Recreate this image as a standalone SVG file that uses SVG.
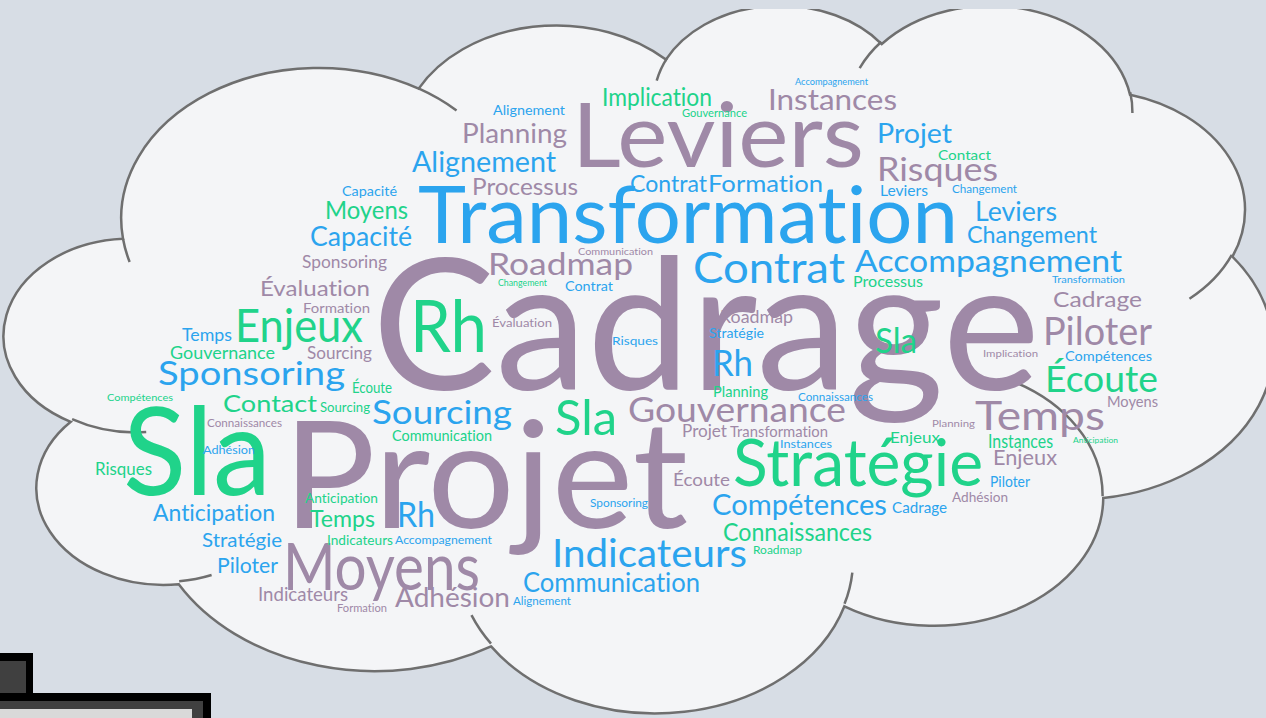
<svg xmlns="http://www.w3.org/2000/svg" width="1266" height="718" viewBox="0 0 1266 718">
<defs>
<style>
text{font-family:Lato,"Open Sans","Liberation Sans",sans-serif;font-variant-ligatures:none;font-feature-settings:"liga" 0,"clig" 0;}
.p{fill:#9f89a7}
.b{fill:#2ba4ee}
.g{fill:#20d38a}
.edge{fill:none;stroke:#6f6f6f;stroke-width:2.5;vector-effect:non-scaling-stroke}
</style>
<clipPath id="topclip"><rect x="0" y="9" width="1266" height="709"/></clipPath>
</defs>
<rect id="background" x="0" y="0" width="1266" height="718" fill="#d7dde5"/>
<g id="cloud" clip-path="url(#topclip)">
<g transform="matrix(0.029258 0 0 0.016377 8.9 3.4)">
<path class="edge" style="fill:#f4f5f7" d="M 3900 14370 A 6753 9190 0 0 1 14005.1 5202.4 A 5333 7267 0 0 1 22455.9 3432.8 A 4365 5945 0 0 1 29832.8 2481.5 A 4857 6595 0 0 1 38318 5576.7 A 5333 7273 0 0 1 41818.3 15460.3 A 6775 9220 0 0 1 37404.2 30203.5 A 5785 7867 0 0 1 28555.8 36813.9 A 6752 9215 0 0 1 16480.5 39264.6 A 7720 10543 0 0 1 5805 35470.4 A 4360 5918 0 0 1 2113.5 25548.6 A 4345 5945 0 0 1 3900 14370 Z"/>
</g>
</g>
<g id="cloud-inner-arcs" clip-path="url(#topclip)">
<g transform="matrix(0.029258 0 0 0.016377 8.9 3.4)">
<path class="edge" d="M 4693 26177 A 4345 5945 0 0 1 2159.9 25380"/>
<path class="edge" d="M 6928 34899 A 4360 5918 0 0 1 5819.8 35280.6"/>
<path class="edge" d="M 16478 39090 A 6752 9215 0 0 1 15810.1 37350.2"/>
<path class="edge" d="M 28827 34751 A 6752 9215 0 0 1 28560.3 36660.3"/>
<path class="edge" d="M 34129 22954 A 5785 7867 0 0 1 37380.5 30089.6"/>
<path class="edge" d="M 41798 15354 A 5333 7273 0 0 1 40350.2 18029.8"/>
<path class="edge" d="M 38324 5426 A 4857 6595 0 0 1 38400.4 6689.6"/>
<path class="edge" d="M 29078 3952 A 4857 6595 0 0 1 29819.6 2340.5"/>
<path class="edge" d="M 22141 4720 A 4365 5945 0 0 1 22500.1 3330.2"/>
<path class="edge" d="M 14000 5192 A 6753 9190 0 0 1 15299.8 6540.1"/>
<path class="edge" d="M 4127 15789 A 6753 9190 0 0 1 3900.1 14370.5"/>
</g>
</g>
<g id="words">
<text class="p" x="372" y="390" font-size="183" textLength="668" lengthAdjust="spacingAndGlyphs">Cadrage</text>
<text class="p" x="283" y="528" font-size="150" textLength="405" lengthAdjust="spacingAndGlyphs">Projet</text>
<text class="b" x="418" y="243" font-size="79" textLength="540" lengthAdjust="spacingAndGlyphs">Transformation</text>
<text class="p" x="572" y="167" font-size="90" textLength="292" lengthAdjust="spacingAndGlyphs">Leviers</text>
<text class="g" x="123" y="495" font-size="122" textLength="148" lengthAdjust="spacingAndGlyphs">Sla</text>
<text class="g" x="733" y="486" font-size="66" textLength="250" lengthAdjust="spacingAndGlyphs">Stratégie</text>
<text class="g" x="410" y="352" font-size="72" textLength="77" lengthAdjust="spacingAndGlyphs">Rh</text>
<text class="p" x="283" y="590" font-size="65" textLength="197" lengthAdjust="spacingAndGlyphs">Moyens</text>
<text class="g" x="235" y="342" font-size="46" textLength="128" lengthAdjust="spacingAndGlyphs">Enjeux</text>
<text class="b" x="693" y="283" font-size="43" textLength="152" lengthAdjust="spacingAndGlyphs">Contrat</text>
<text class="b" x="552" y="567" font-size="39" textLength="195" lengthAdjust="spacingAndGlyphs">Indicateurs</text>
<text class="p" x="1043" y="345" font-size="39" textLength="109" lengthAdjust="spacingAndGlyphs">Piloter</text>
<text class="p" x="975" y="430" font-size="41" textLength="130" lengthAdjust="spacingAndGlyphs">Temps</text>
<text class="g" x="1045" y="392" font-size="37" textLength="113" lengthAdjust="spacingAndGlyphs">Écoute</text>
<text class="p" x="628" y="422" font-size="34" textLength="218" lengthAdjust="spacingAndGlyphs">Gouvernance</text>
<text class="g" x="555" y="435" font-size="48" textLength="62" lengthAdjust="spacingAndGlyphs">Sla</text>
<text class="b" x="372" y="424" font-size="33" textLength="140" lengthAdjust="spacingAndGlyphs">Sourcing</text>
<text class="b" x="158" y="385" font-size="33" textLength="187" lengthAdjust="spacingAndGlyphs">Sponsoring</text>
<text class="b" x="855" y="272" font-size="30" textLength="267" lengthAdjust="spacingAndGlyphs">Accompagnement</text>
<text class="p" x="488" y="275" font-size="31" textLength="145" lengthAdjust="spacingAndGlyphs">Roadmap</text>
<text class="p" x="877" y="181" font-size="32" textLength="121" lengthAdjust="spacingAndGlyphs">Risques</text>
<text class="b" x="712" y="376" font-size="36" textLength="41" lengthAdjust="spacingAndGlyphs">Rh</text>
<text class="g" x="875" y="353" font-size="35" textLength="42" lengthAdjust="spacingAndGlyphs">Sla</text>
<text class="b" x="397" y="527" font-size="35" textLength="38" lengthAdjust="spacingAndGlyphs">Rh</text>
<text class="p" x="768" y="110" font-size="28" textLength="129" lengthAdjust="spacingAndGlyphs">Instances</text>
<text class="b" x="712" y="515" font-size="28" textLength="175" lengthAdjust="spacingAndGlyphs">Compétences</text>
<text class="b" x="412" y="172" font-size="28" textLength="144" lengthAdjust="spacingAndGlyphs">Alignement</text>
<text class="p" x="395" y="607" font-size="27" textLength="115" lengthAdjust="spacingAndGlyphs">Adhésion</text>
<text class="b" x="877" y="143" font-size="26" textLength="75" lengthAdjust="spacingAndGlyphs">Projet</text>
<text class="p" x="462" y="143" font-size="26" textLength="105" lengthAdjust="spacingAndGlyphs">Planning</text>
<text class="b" x="310" y="246" font-size="26" textLength="102" lengthAdjust="spacingAndGlyphs">Capacité</text>
<text class="g" x="325" y="219" font-size="25" textLength="83" lengthAdjust="spacingAndGlyphs">Moyens</text>
<text class="g" x="602" y="106" font-size="25" textLength="110" lengthAdjust="spacingAndGlyphs">Implication</text>
<text class="b" x="975" y="221" font-size="26" textLength="82" lengthAdjust="spacingAndGlyphs">Leviers</text>
<text class="g" x="723" y="541" font-size="25" textLength="149" lengthAdjust="spacingAndGlyphs">Connaissances</text>
<text class="b" x="523" y="592" font-size="26" textLength="177" lengthAdjust="spacingAndGlyphs">Communication</text>
<text class="g" x="223" y="412" font-size="24" textLength="94" lengthAdjust="spacingAndGlyphs">Contact</text>
<text class="b" x="967" y="243" font-size="23" textLength="130" lengthAdjust="spacingAndGlyphs">Changement</text>
<text class="p" x="472" y="195" font-size="23" textLength="106" lengthAdjust="spacingAndGlyphs">Processus</text>
<text class="b" x="630" y="192" font-size="23" textLength="77" lengthAdjust="spacingAndGlyphs">Contrat</text>
<text class="b" x="708" y="192" font-size="23" textLength="115" lengthAdjust="spacingAndGlyphs">Formation</text>
<text class="b" x="153" y="521" font-size="23" textLength="122" lengthAdjust="spacingAndGlyphs">Anticipation</text>
<text class="g" x="310" y="527" font-size="24" textLength="65" lengthAdjust="spacingAndGlyphs">Temps</text>
<text class="p" x="260" y="296" font-size="22" textLength="110" lengthAdjust="spacingAndGlyphs">Évaluation</text>
<text class="b" x="217" y="573" font-size="22" textLength="61" lengthAdjust="spacingAndGlyphs">Piloter</text>
<text class="p" x="1053" y="307" font-size="21" textLength="89" lengthAdjust="spacingAndGlyphs">Cadrage</text>
<text class="p" x="993" y="465" font-size="21" textLength="64" lengthAdjust="spacingAndGlyphs">Enjeux</text>
<text class="p" x="258" y="601" font-size="20" textLength="90" lengthAdjust="spacingAndGlyphs">Indicateurs</text>
<text class="b" x="202" y="547" font-size="19" textLength="80" lengthAdjust="spacingAndGlyphs">Stratégie</text>
<text class="g" x="988" y="448" font-size="19" textLength="65" lengthAdjust="spacingAndGlyphs">Instances</text>
<text class="g" x="170" y="359" font-size="18" textLength="105" lengthAdjust="spacingAndGlyphs">Gouvernance</text>
<text class="b" x="182" y="341" font-size="18" textLength="50" lengthAdjust="spacingAndGlyphs">Temps</text>
<text class="p" x="307" y="359" font-size="18" textLength="65" lengthAdjust="spacingAndGlyphs">Sourcing</text>
<text class="p" x="720" y="323" font-size="18" textLength="73" lengthAdjust="spacingAndGlyphs">Roadmap</text>
<text class="p" x="673" y="486" font-size="18" textLength="57" lengthAdjust="spacingAndGlyphs">Écoute</text>
<text class="p" x="302" y="268" font-size="17" textLength="85" lengthAdjust="spacingAndGlyphs">Sponsoring</text>
<text class="p" x="682" y="437" font-size="17" textLength="45" lengthAdjust="spacingAndGlyphs">Projet</text>
<text class="g" x="95" y="475" font-size="17" textLength="57" lengthAdjust="spacingAndGlyphs">Risques</text>
<text class="p" x="730" y="437" font-size="16" textLength="98" lengthAdjust="spacingAndGlyphs">Transformation</text>
<text class="g" x="890" y="443" font-size="16" textLength="50" lengthAdjust="spacingAndGlyphs">Enjeux</text>
<text class="g" x="352" y="393" font-size="15" textLength="40" lengthAdjust="spacingAndGlyphs">Écoute</text>
<text class="g" x="853" y="287" font-size="15" textLength="70" lengthAdjust="spacingAndGlyphs">Processus</text>
<text class="g" x="392" y="441" font-size="15" textLength="100" lengthAdjust="spacingAndGlyphs">Communication</text>
<text class="b" x="342" y="196" font-size="14" textLength="55" lengthAdjust="spacingAndGlyphs">Capacité</text>
<text class="b" x="880" y="196" font-size="15" textLength="48" lengthAdjust="spacingAndGlyphs">Leviers</text>
<text class="p" x="1107" y="407" font-size="15" textLength="51" lengthAdjust="spacingAndGlyphs">Moyens</text>
<text class="g" x="713" y="397" font-size="15" textLength="55" lengthAdjust="spacingAndGlyphs">Planning</text>
<text class="b" x="990" y="487" font-size="15" textLength="40" lengthAdjust="spacingAndGlyphs">Piloter</text>
<text class="b" x="892" y="513" font-size="15" textLength="55" lengthAdjust="spacingAndGlyphs">Cadrage</text>
<text class="b" x="709" y="338" font-size="14" textLength="55" lengthAdjust="spacingAndGlyphs">Stratégie</text>
<text class="b" x="565" y="291" font-size="14" textLength="48" lengthAdjust="spacingAndGlyphs">Contrat</text>
<text class="b" x="493" y="115" font-size="13" textLength="72" lengthAdjust="spacingAndGlyphs">Alignement</text>
<text class="g" x="938" y="160" font-size="14" textLength="53" lengthAdjust="spacingAndGlyphs">Contact</text>
<text class="p" x="303" y="313" font-size="14" textLength="67" lengthAdjust="spacingAndGlyphs">Formation</text>
<text class="g" x="320" y="412" font-size="14" textLength="50" lengthAdjust="spacingAndGlyphs">Sourcing</text>
<text class="b" x="1065" y="361" font-size="14" textLength="87" lengthAdjust="spacingAndGlyphs">Compétences</text>
<text class="p" x="952" y="502" font-size="14" textLength="56" lengthAdjust="spacingAndGlyphs">Adhésion</text>
<text class="g" x="305" y="503" font-size="14" textLength="73" lengthAdjust="spacingAndGlyphs">Anticipation</text>
<text class="g" x="327" y="545" font-size="14" textLength="66" lengthAdjust="spacingAndGlyphs">Indicateurs</text>
<text class="p" x="492" y="327" font-size="12" textLength="60" lengthAdjust="spacingAndGlyphs">Évaluation</text>
<text class="b" x="612" y="345" font-size="12" textLength="46" lengthAdjust="spacingAndGlyphs">Risques</text>
<text class="b" x="780" y="448" font-size="11.5" textLength="52" lengthAdjust="spacingAndGlyphs">Instances</text>
<text class="b" x="395" y="544" font-size="12" textLength="97" lengthAdjust="spacingAndGlyphs">Accompagnement</text>
<text class="b" x="590" y="507" font-size="11" textLength="58" lengthAdjust="spacingAndGlyphs">Sponsoring</text>
<text class="b" x="513" y="605" font-size="11" textLength="58" lengthAdjust="spacingAndGlyphs">Alignement</text>
<text class="b" x="203" y="454" font-size="12" textLength="52" lengthAdjust="spacingAndGlyphs">Adhésion</text>
<text class="g" x="682" y="117" font-size="10.5" textLength="65" lengthAdjust="spacingAndGlyphs">Gouvernance</text>
<text class="b" x="952" y="193" font-size="11" textLength="65" lengthAdjust="spacingAndGlyphs">Changement</text>
<text class="p" x="207" y="427" font-size="10.5" textLength="75" lengthAdjust="spacingAndGlyphs">Connaissances</text>
<text class="b" x="798" y="401" font-size="10.5" textLength="75" lengthAdjust="spacingAndGlyphs">Connaissances</text>
<text class="p" x="983" y="357" font-size="10" textLength="55" lengthAdjust="spacingAndGlyphs">Implication</text>
<text class="p" x="932" y="427" font-size="10" textLength="43" lengthAdjust="spacingAndGlyphs">Planning</text>
<text class="g" x="753" y="554" font-size="11" textLength="49" lengthAdjust="spacingAndGlyphs">Roadmap</text>
<text class="p" x="337" y="612" font-size="10.5" textLength="50" lengthAdjust="spacingAndGlyphs">Formation</text>
<text class="g" x="107" y="401" font-size="10" textLength="66" lengthAdjust="spacingAndGlyphs">Compétences</text>
<text class="p" x="578" y="255" font-size="10" textLength="75" lengthAdjust="spacingAndGlyphs">Communication</text>
<text class="b" x="1052" y="283" font-size="9.5" textLength="73" lengthAdjust="spacingAndGlyphs">Transformation</text>
<text class="g" x="498" y="286" font-size="8.5" textLength="49" lengthAdjust="spacingAndGlyphs">Changement</text>
<text class="b" x="795" y="85" font-size="8.5" textLength="73" lengthAdjust="spacingAndGlyphs">Accompagnement</text>
<text class="g" x="1073" y="443" font-size="7.5" textLength="45" lengthAdjust="spacingAndGlyphs">Anticipation</text>
</g>
<g id="corner-device">
<rect x="-10" y="653" width="43" height="50" fill="#000000"/>
<rect x="-10" y="661" width="36" height="40" fill="#404040"/>
<rect x="-10" y="693" width="221" height="30" fill="#000000"/>
<rect x="-10" y="701" width="213" height="25" fill="#404040"/>
<rect x="-10" y="709" width="202" height="15" fill="#d9d9d9"/>
</g>
</svg>
